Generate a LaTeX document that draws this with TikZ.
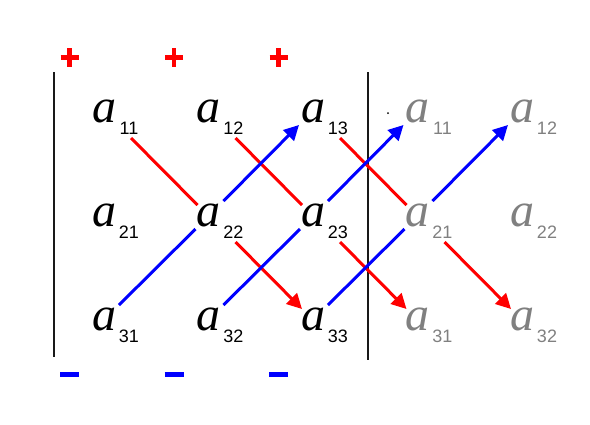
\documentclass[tikz,border=0pt]{standalone}
\usepackage{fontspec}
\setmainfont{Liberation Serif}
\newfontfamily\subfont{Liberation Sans}
\usetikzlibrary{arrows.meta}
\begin{document}
\begin{tikzpicture}[x=1pt,y=-1pt,
  ent/.style={inner sep=0pt, font=\fontsize{48}{50}\selectfont\itshape},
  sub/.style={inner sep=0pt, font=\subfont\fontsize{18}{20}\selectfont},
  gr/.style={text=gray},
  redl/.style={draw=red, line width=3pt},
  bluel/.style={draw=blue, line width=3pt},
  tip/.style={-{Triangle[length=15pt,width=15pt]}},
  bar/.style={draw=black!90, line width=2pt},
  plusst/.style={draw=red, line width=4.5pt},
  minusst/.style={draw=blue, line width=5pt}]
\useasboundingbox (0,0) rectangle (590,424);
% entries
\foreach \r/\y in {1/111,2/215,3/319}{
  \foreach \c/\x/\lab/\st in {1/104/1/,2/208.5/2/,3/313/3/,4/417.5/1/gr,5/522/2/gr}{
    \node[ent,\st] (e\r\c) at (\x,\y) {a};
    \node[sub,\st] (s\r\c) at ([shift={(25,17)}]e\r\c.center) {\r\lab};
  }
}
% vertical bars
\coordinate (v1t) at (54,72); \coordinate (v1b) at (54,357);
\coordinate (v2t) at (368,72); \coordinate (v2b) at (368,360);
\draw[bar] (v1t) -- (v1b);
\draw[bar] (v2t) -- (v2b);
% red lines
\foreach \a/\b in {11/22,12/23,13/24}{
  \draw[redl] ([shift={(27,27)}]e\a.center) -- ([shift={(-11,-10)}]e\b.center);
}
\foreach \a/\b in {22/33,23/34,24/35}{
  \draw[redl,tip] ([shift={(27,27)}]e\a.center) -- ([shift={(-11,-10)}]e\b.center);
}
% blue lines
\foreach \a/\b in {31/22,32/23,33/24}{
  \draw[bluel] ([shift={(15,-14)}]e\a.center) -- ([shift={(-13,14)}]e\b.center);
}
\foreach \a/\b in {22/13,23/14,24/15}{
  \draw[bluel,tip] ([shift={(15,-14)}]e\a.center) -- ([shift={(-14,14)}]e\b.center);
}
% signs
\foreach \x in {69.5,174,278.5}{
  \draw[plusst] (\x-9,57.5) -- (\x+9,57.5);
  \draw[plusst] (\x,48) -- (\x,67);
  \draw[minusst] (\x-9.5,374.5) -- (\x+9.5,374.5);
}
% stray dot
\fill (388,113) circle (1pt);
\end{tikzpicture}
\end{document}
